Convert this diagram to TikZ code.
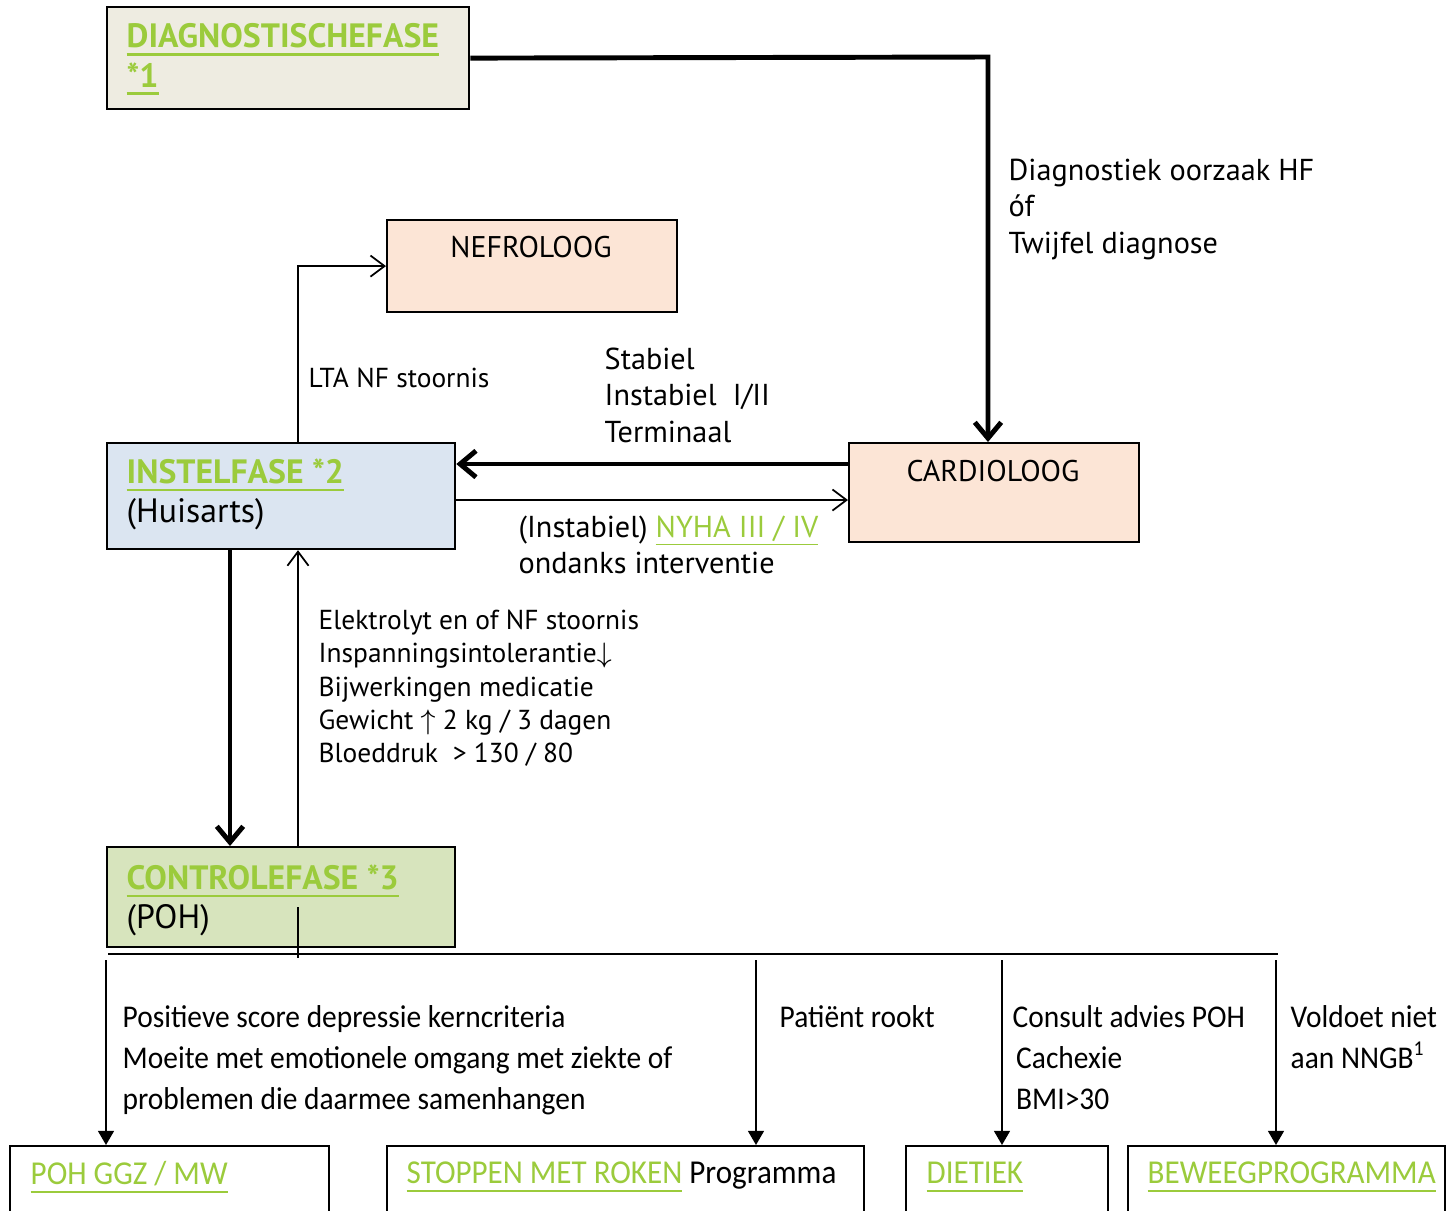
\documentclass[tikz,border=0pt]{standalone}
\usepackage{fontspec}
\setmainfont{PT Sans}
\newfontfamily\smalfont[FakeStretch=0.93]{Carlito}
\usetikzlibrary{arrows.meta, positioning}
\definecolor{LinkGreen}{RGB}{155, 203, 60}
\definecolor{DiagBeige}{RGB}{238, 236, 225}
\definecolor{Peach}{RGB}{252, 229, 214}
\definecolor{PaleBlue}{RGB}{219, 229, 241}
\definecolor{PaleGreen}{RGB}{215, 228, 189}
% groene onderstreepte tekst, [dikte van de streep]
\newcommand{\groen}[2][0.45pt]{\textcolor{LinkGreen}{\setbox0\hbox{#2}\rlap{\rule[-2.3pt]{\wd0}{#1}}\box0}}

\begin{document}
\begin{tikzpicture}[x=0.01cm, y=-0.01cm,
    fase/.style={draw, line width=0.6pt, anchor=north west, inner sep=0pt},
    tekst/.style={inner sep=0pt, align=left, anchor=north west},
    kop/.style={font=\fontsize{9.6}{11.2}\selectfont},
    groot/.style={font=\fontsize{8.6}{10.4}\selectfont},
    naam/.style={font=\fontsize{8.5}{10}\selectfont, inner sep=0pt},
    klein/.style={font=\fontsize{7.8}{9.5}\selectfont},
    onder/.style={font=\smalfont\fontsize{9}{11.7}\selectfont},
    bodem/.style={font=\smalfont\fontsize{9.5}{11}\selectfont, inner sep=0pt, anchor=west},
    dik/.style={line width=1.4pt, -{Straight Barb[length=4.5pt, width=7.5pt]}},
    dun/.style={line width=0.5pt, -{Straight Barb[length=4pt, width=6pt]}},
    pijl/.style={line width=0.5pt, -{Triangle[length=4pt, width=4.5pt]}}]
    \clip (0,0) rectangle (1453,1211);

    % Fasen
    \node[fase, fill=DiagBeige, minimum width=3.62cm, minimum height=1.02cm] (diag) at (106,6) {};
    \node[tekst, kop] (diagT) at (126,23) {\bfseries\groen[0.8pt]{DIAGNOSTISCHEFASE}\\\bfseries\groen[0.8pt]{*1}};
    \node[fase, fill=PaleBlue, minimum width=3.48cm, minimum height=1.06cm] (inst) at (106,442) {};
    \node[tekst, kop] (instT) at (126,458) {\bfseries\groen[0.8pt]{INSTELFASE *2}\\(Huisarts)};
    \node[fase, fill=PaleGreen, minimum width=3.48cm, minimum height=1cm] (ctrl) at (106,846) {};
    \node[tekst, kop] (ctrlT) at (126,864) {\bfseries\groen[0.8pt]{CONTROLEFASE *3}\\(POH)};

    % Specialisten
    \node[fase, fill=Peach, minimum width=2.9cm, minimum height=0.92cm] (nef) at (386,219) {};
    \node[naam] (nefT) at (531,247) {NEFROLOOG};
    \node[fase, fill=Peach, minimum width=2.9cm, minimum height=0.99cm] (card) at (848,442) {};
    \node[naam] (cardT) at (993,471) {CARDIOLOOG};

    % Verwijzingen onderaan
    \node[fase, fill=white, minimum width=3.19cm, minimum height=0.9cm] (ggz) at (9,1145) {};
    \node[fase, fill=white, minimum width=4.77cm, minimum height=0.9cm] (stop) at (386,1145) {};
    \node[fase, fill=white, minimum width=2.02cm, minimum height=0.9cm] (diet) at (905,1145) {};
    \node[fase, fill=white, minimum width=3.17cm, minimum height=0.9cm] (bew) at (1127,1145) {};
    \node[bodem] (ggzT) at (30,1177) {\groen{POH GGZ / MW}};
    \node[bodem] (stopT) at (406,1177) {\groen{STOPPEN MET ROKEN} Programma};
    \node[bodem] (dietT) at (926,1177) {\groen{DIETIEK}};
    \node[bodem] (bewT) at (1147,1177) {\groen{BEWEEGPROGRAMMA}};

    % Pijlen tussen de fasen
    \coordinate (knik) at (988,57);
    \draw[dik] (diag.east) -- (knik) -- (knik |- card.north);
    \draw[dik] (card.west |- 0,464) -- (inst.east |- 0,464);
    \draw[dun] (inst.east |- 0,500) -- (card.west |- 0,500);
    \coordinate (nefop) at (298,267);
    \draw[dun] (inst.north -| nefop) |- (nef.west);
    \draw[dik] (inst.south -| 230,0) -- (ctrl.north -| 230,0);
    \draw[dun] (ctrl.north -| nefop) -- (inst.south -| nefop);
    \draw[line width=0.5pt] (298,907) -- (298,958);

    % Verdeellijn en pijlen naar verwijzingen
    \coordinate (busL) at (108,954);
    \coordinate (busR) at (1278,954);
    \draw[line width=0.6pt] (busL) -- (busR);
    \foreach \x/\doel in {106/ggz, 756/stop, 1002/diet, 1276/bew} {
        \coordinate (van\doel) at (\x,960);
        \draw[pijl] (van\doel) -- (van\doel |- \doel.north);
    }

    % Teksten bij de pijlen
    \node[tekst, groot] (diagL) at (1008,158) {Diagnostiek oorzaak HF\\óf\\Twijfel diagnose};
    \node[tekst, groot] (stabL) at (604,347) {Stabiel\\Instabiel\ \ I/II\\Terminaal};
    \node[klein, inner sep=0pt, anchor=west] (ltaL) at (308,378) {LTA NF stoornis};
    \node[tekst, groot] (nyhaL) at (518,515) {(Instabiel) \groen{NYHA III / IV}\\ondanks interventie};
    \node[tekst, klein] (elekL) at (318,609) {Elektrolyt en of NF stoornis\\Inspanningsintolerantie$\downarrow$\\Bijwerkingen medicatie\\Gewicht $\uparrow$ 2 kg / 3 dagen\\Bloeddruk \ > 130 / 80};
    \node[tekst, onder] (depL) at (122,1005) {Positieve score depressie kerncriteria\\Moeite met emotionele omgang met ziekte of\\problemen die daarmee samenhangen};
    \node[tekst, onder] (rookL) at (779,1005) {Patiënt rookt};
    \node[tekst, onder] (dietL) at (1012,1005) {Consult advies POH\\\hspace{1pt}Cachexie\\\hspace{1pt}BMI>30};
    \node[tekst, onder] (bewL) at (1290,1005) {Voldoet niet\\aan NNGB\textsuperscript{1}};
\end{tikzpicture}
\end{document}
